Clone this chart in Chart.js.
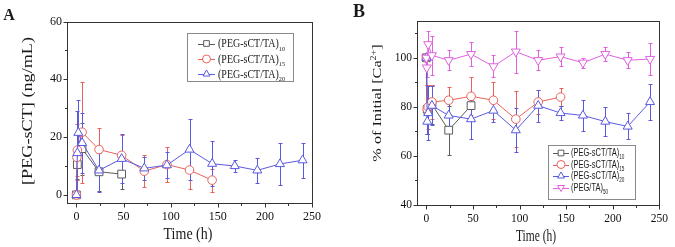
<!DOCTYPE html>
<html>
<head>
<meta charset="utf-8">
<script src="https://cdn.jsdelivr.net/npm/chart.js@4.4.1/dist/chart.umd.min.js"></script>
<style>
  html, body { margin: 0; padding: 0; background: #fff; }
  #wrap { position: relative; width: 675px; height: 247px; }
  canvas { position: absolute; top: 0; }
  #canvasA { left: 0; }
  #canvasB { left: 337px; }
</style>
</head>
<body>
<div id="wrap">
  <canvas id="canvasA" width="337" height="247"></canvas>
  <canvas id="canvasB" width="338" height="247"></canvas>
</div>
<script>
// --- Panel A : [PEG-sCT] (ng/mL) vs time ---
const timeA10 = [0, 1, 6, 24, 48];
const valA10 = [0, 10.5, 16, 8, 7.2];
const errA10 = [0, 5, 9, 6.5, 5];

const timeA15 = [0, 0.5, 1, 6, 24, 48, 72, 96, 120, 144];
const valA15 = [0, 13, 15.5, 21.7, 15.7, 13.7, 8.2, 10.5, 8.6, 5.1];
const errA15 = [0, 8, 9, 17.5, 7.3, 7, 5.6, 6, 6.5, 4];

const timeA20 = [0, 1, 2, 6, 24, 48, 72, 96, 120, 144, 168, 192, 216, 240];
const valA20 = [0, 14.5, 21.5, 18, 8.5, 12.5, 9.2, 10.3, 15.7, 10.8, 10, 8.5, 10.7, 12];
const errA20 = [0, 14.5, 11.5, 10.3, 7.5, 8.5, 4, 4.5, 10.5, 7.7, 2.2, 4.3, 7.3, 6.1];

// --- Panel B : % of initial [Ca2+] vs time ---
const timeB10 = [0, 1, 6, 24, 48];
const valB10 = [100, 79, 81, 70.5, 80.5];
const errB10 = [0, 10, 8, 10, 5];

const timeB15 = [0, 1, 2, 6, 24, 48, 72, 96, 120, 144];
const valB15 = [100, 79, 80, 82, 82.7, 84.3, 82.7, 75, 82, 84];
const errB15 = [0, 10, 9, 7, 5.5, 7.7, 7.5, 11.5, 5, 3.5];

const timeB20 = [0, 1, 2, 6, 24, 48, 72, 96, 120, 144, 168, 192, 216, 240];
const valB20 = [100, 74, 77.5, 80.5, 76.5, 75, 78.5, 70.5, 80.5, 77.5, 76.5, 74, 72, 82];
const errB20 = [0, 5, 11, 8, 5, 8, 4.5, 9, 6.5, 3, 6.3, 6, 5.3, 7.5];

const timeB50 = [0, 0.5, 2, 6, 24, 48, 72, 96, 120, 144, 168, 192, 216, 240];
const valB50 = [100, 96, 105.5, 101, 99, 101.5, 96.5, 102.5, 99, 100.5, 98, 101.5, 99, 99.5];
const errB50 = [0, 4, 5.5, 8, 4, 5, 4.5, 8.5, 4, 3.7, 2, 3, 3.3, 6.5];

// ticks
const xMajor = [0, 50, 100, 150, 200, 250];
const xMinor = [25, 75, 125, 175, 225];
const yMajorA = [0, 20, 40, 60];
const yMinorA = [10, 30, 50];
const yMajorB = [40, 60, 80, 100];
const yMinorB = [50, 70, 90, 110];

const colGray = "#5c5c5c";
const colRed = "#e8625c";
const colBlue = "#5a5ae0";
const colPink = "#e060e0";
const serif = "'Liberation Serif', 'Times New Roman', serif";
const sans = "'Liberation Sans', Arial, sans-serif";

const makeSeries = (sub, name, times, values, errors, color, style, radius, rotation, order) => ({
  label: name + sub,
  name: name,
  sub: sub,
  data: times.map((t, i) => ({ x: t, y: values[i] })),
  errors: errors,
  borderColor: color,
  backgroundColor: "#fff",
  pointBorderColor: color,
  pointBackgroundColor: "#fff",
  pointStyle: style,
  pointRadius: radius,
  pointRotation: rotation,
  pointBorderWidth: 1,
  borderWidth: 1,
  showLine: true,
  order: order,
});

// rich text : parts with sub / sup
const drawRich = (ctx, parts, x, y, size, family, align) => {
  const fontOf = (p) => `${p.b ? "bold " : ""}${p.sub || p.sup ? size * 0.62 : size}px ${family}`;
  let w = 0;
  parts.forEach((p) => { ctx.font = fontOf(p); w += ctx.measureText(p.t).width; });
  let cx = align === "center" ? x - w / 2 : x;
  parts.forEach((p) => {
    ctx.font = fontOf(p);
    const dy = p.sub ? size * 0.28 : p.sup ? -size * 0.42 : 0;
    ctx.fillText(p.t, cx, y + dy);
    cx += ctx.measureText(p.t).width;
  });
};

const drawTitle = (ctx, parts, cx, cy, size, family, stretch, rotate, align) => {
  ctx.save();
  ctx.translate(cx, cy);
  if (rotate) {
    ctx.rotate(-Math.PI / 2);
    ctx.scale(stretch, 1);
  } else {
    ctx.scale(1, stretch);
  }
  ctx.textBaseline = "alphabetic";
  ctx.textAlign = "left";
  ctx.fillStyle = "#1a1a1a";
  drawRich(ctx, parts, 0, size * 0.33, size, family, align || "center");
  ctx.restore();
};

const drawMarker = (ctx, style, r, rotation, x, y, color) => {
  ctx.save();
  ctx.strokeStyle = color;
  ctx.fillStyle = "#fff";
  ctx.lineWidth = 1;
  ctx.beginPath();
  if (style === "rect") {
    const s = r * Math.SQRT1_2;
    ctx.rect(x - s, y - s, 2 * s, 2 * s);
  } else if (style === "triangle") {
    const dir = rotation === 180 ? -1 : 1;
    ctx.moveTo(x, y - dir * r);
    ctx.lineTo(x - r * 0.866, y + dir * r * 0.5);
    ctx.lineTo(x + r * 0.866, y + dir * r * 0.5);
    ctx.closePath();
  } else {
    ctx.arc(x, y, r, 0, Math.PI * 2);
  }
  ctx.fill();
  ctx.stroke();
  ctx.restore();
};

const errorBarPlugin = {
  id: "errorBars",
  beforeDatasetsDraw(chart) {
    const { ctx, chartArea: a, scales: { x, y } } = chart;
    ctx.save();
    ctx.beginPath();
    ctx.rect(a.left, a.top, a.right - a.left, a.bottom - a.top);
    ctx.clip();
    chart.data.datasets.forEach((ds) => {
      ctx.strokeStyle = ds.borderColor;
      ctx.lineWidth = 1;
      ds.data.forEach((p, i) => {
        const e = ds.errors[i];
        if (!e) return;
        const px = Math.round(x.getPixelForValue(p.x)) + 0.5;
        const top = Math.round(y.getPixelForValue(p.y + e)) + 0.5;
        const bot = Math.round(y.getPixelForValue(p.y - e)) + 0.5;
        ctx.beginPath();
        ctx.moveTo(px, top);
        ctx.lineTo(px, bot);
        ctx.moveTo(px - 2, top);
        ctx.lineTo(px + 2, top);
        ctx.moveTo(px - 2, bot);
        ctx.lineTo(px + 2, bot);
        ctx.stroke();
      });
    });
    ctx.restore();
  },
};

const framePlugin = {
  id: "frame",
  afterDatasetsDraw(chart, args, opts) {
    const { ctx, chartArea: a, scales: { x, y } } = chart;
    ctx.save();
    ctx.strokeStyle = "#333";
    ctx.lineWidth = 1;
    const l = Math.round(a.left) + 0.5, r = Math.round(a.right) + 0.5;
    const t = Math.round(a.top) + 0.5, b = Math.round(a.bottom) + 0.5;
    ctx.strokeRect(l, t, r - l, b - t);
    ctx.beginPath();
    const xt = (vals, len) => vals.forEach((v) => {
      const px = Math.round(x.getPixelForValue(v)) + 0.5;
      ctx.moveTo(px, b);
      ctx.lineTo(px, b + len);
    });
    const yt = (vals, len) => vals.forEach((v) => {
      const py = Math.round(y.getPixelForValue(v)) + 0.5;
      ctx.moveTo(l, py);
      ctx.lineTo(l - len, py);
    });
    xt(opts.xMajor, 4);
    xt(opts.xMinor, 2.5);
    yt(opts.yMajor, 4);
    yt(opts.yMinor, 2.5);
    ctx.stroke();
    ctx.restore();
  },
};

// legend + titles
const textPlugin = {
  id: "texts",
  afterDraw(chart, args, o) {
    const { ctx } = chart;
    drawTitle(ctx, [{ t: o.letter, b: true }], o.letterPos[0], o.letterPos[1], o.letterSize, serif, 1, false);
    drawTitle(ctx, o.xTitle, o.xTitlePos[0], o.xTitlePos[1], o.xTitleSize, serif, o.xStretch, false);
    drawTitle(ctx, o.yTitle, o.yTitlePos[0], o.yTitlePos[1], o.yTitleSize, serif, o.yStretch, true);

    const lg = o.legend;
    ctx.save();
    ctx.strokeStyle = "#8a8a8a";
    ctx.lineWidth = 1;
    ctx.strokeRect(lg.box[0] + 0.5, lg.box[1] + 0.5, lg.box[2], lg.box[3]);
    ctx.restore();
    chart.data.datasets.forEach((ds, i) => {
      const ry = lg.rows[i];
      ctx.save();
      ctx.strokeStyle = ds.borderColor;
      ctx.lineWidth = 1;
      ctx.beginPath();
      ctx.moveTo(lg.line[0], Math.round(ry) + 0.5);
      ctx.lineTo(lg.line[1], Math.round(ry) + 0.5);
      ctx.stroke();
      ctx.restore();
      drawMarker(ctx, ds.pointStyle, lg.markerR, ds.pointRotation, (lg.line[0] + lg.line[1]) / 2, ry, ds.borderColor);
      drawTitle(ctx, [{ t: ds.name }, { t: ds.sub, sub: true }], lg.textX, ry, lg.size, lg.family, lg.stretch, false, "left");
    });
  },
};

const commonScales = (ymin, ymax, yw, xh, tickSize) => ({
  x: {
    type: "linear",
    min: -10,
    max: 250,
    grid: { display: false, drawTicks: false },
    border: { display: false },
    afterFit: (s) => { s.height = xh; },
    ticks: {
      stepSize: 50,
      includeBounds: false,
      padding: 7,
      maxRotation: 0,
      color: "#111",
      font: { family: serif, size: tickSize },
    },
  },
  y: {
    type: "linear",
    min: ymin,
    max: ymax,
    grid: { display: false, drawTicks: false },
    border: { display: false },
    afterFit: (s) => { s.width = yw; },
    ticks: {
      stepSize: 20,
      includeBounds: false,
      padding: 5,
      color: "#111",
      font: { family: serif, size: tickSize },
    },
  },
});

const chartA = new Chart(document.getElementById("canvasA"), {
  type: "scatter",
  data: {
    datasets: [
      makeSeries("10", "(PEG-sCT/TA)", timeA10, valA10, errA10, colGray, "rect", 5.5, 0, 3),
      makeSeries("15", "(PEG-sCT/TA)", timeA15, valA15, errA15, colRed, "circle", 4.3, 0, 2),
      makeSeries("20", "(PEG-sCT/TA)", timeA20, valA20, errA20, colBlue, "triangle", 5.2, 0, 1),
    ],
  },
  options: {
    responsive: false,
    animation: false,
    devicePixelRatio: 1,
    events: [],
    layout: { padding: { top: 21.5, right: 25, left: 0, bottom: 0 } },
    scales: commonScales(-2.8, 60, 67, 44, 12),
    plugins: {
      legend: { display: false },
      tooltip: { enabled: false },
      frame: { xMajor, xMinor, yMajor: yMajorA, yMinor: yMinorA },
      texts: {
        letter: "A", letterPos: [9, 15], letterSize: 16,
        xTitle: [{ t: "Time (h)" }], xTitlePos: [188, 233], xTitleSize: 14, xStretch: 1.2,
        yTitle: [{ t: "[PEG-sCT] (ng/mL)" }], yTitlePos: [27.5, 111], yTitleSize: 14, yStretch: 1.3,
        legend: {
          box: [187, 33, 106, 48], rows: [43.5, 59, 74], line: [198, 215], markerR: 4,
          textX: 218, size: 10, family: serif, stretch: 1.15,
        },
      },
    },
  },
  plugins: [errorBarPlugin, framePlugin, textPlugin],
});

const chartB = new Chart(document.getElementById("canvasB"), {
  type: "scatter",
  data: {
    datasets: [
      makeSeries("10", "(PEG-sCT/TA)", timeB10, valB10, errB10, colGray, "rect", 5.5, 0, 3),
      makeSeries("15", "(PEG-sCT/TA)", timeB15, valB15, errB15, colRed, "circle", 4.3, 0, 2),
      makeSeries("20", "(PEG-sCT/TA)", timeB20, valB20, errB20, colBlue, "triangle", 5.2, 0, 1),
      makeSeries("50", "(PEG/TA)", timeB50, valB50, errB50, colPink, "triangle", 5.2, 180, 0),
    ],
  },
  options: {
    responsive: false,
    animation: false,
    devicePixelRatio: 1,
    events: [],
    layout: { padding: { top: 21, right: 11, left: 0, bottom: 0 } },
    scales: commonScales(40, 115, 80, 42, 11.5),
    plugins: {
      legend: { display: false },
      tooltip: { enabled: false },
      frame: { xMajor, xMinor, yMajor: yMajorB, yMinor: yMinorB },
      texts: {
        letter: "B", letterPos: [22, 11], letterSize: 18,
        xTitle: [{ t: "Time (h)" }], xTitlePos: [199, 236], xTitleSize: 11.5, xStretch: 1.4,
        yTitle: [{ t: "% of Initial [Ca" }, { t: "2+", sup: true }, { t: "]" }], yTitlePos: [40, 103], yTitleSize: 12, yStretch: 1.35,
        legend: {
          box: [211, 145, 87, 54], rows: [153, 164.5, 176, 187.5], line: [216, 232], markerR: 4,
          textX: 234, size: 7.5, family: sans, stretch: 1.35,
        },
      },
    },
  },
  plugins: [errorBarPlugin, framePlugin, textPlugin],
});
</script>
</body>
</html>
